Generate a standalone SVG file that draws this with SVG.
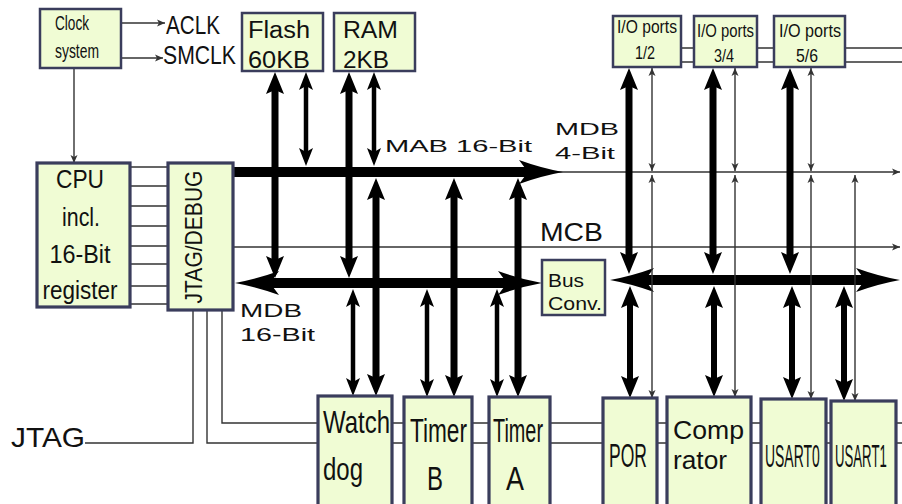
<svg xmlns="http://www.w3.org/2000/svg" width="902" height="504" viewBox="0 0 902 504">
<style>
.box{fill:#f0fcd4;stroke:#3a3d5c;stroke-width:2.5}
.boxb{fill:#f0fcd4;stroke:#3a3d5c;stroke-width:3.2}
.t{font-family:"Liberation Sans",Arial,sans-serif;fill:#111}
.thin{fill:none;stroke:#333;stroke-width:1.4}
.bus{fill:none;stroke:#000;stroke-width:10}
.thk{fill:none;stroke:#000;stroke-width:7}
.thk6{fill:none;stroke:#000;stroke-width:6}
.med{fill:none;stroke:#000;stroke-width:4.5}
</style>
<defs>
<marker id="mBus" markerUnits="userSpaceOnUse" refX="0" refY="0" markerWidth="10" markerHeight="10" orient="auto-start-reverse" overflow="visible">
<path d="M30,0 Q8,-4 -14,-12 L-5,0 L-14,12 Q8,4 30,0 Z" fill="#000"/>
</marker>
<marker id="mThk" markerUnits="userSpaceOnUse" refX="0" refY="0" markerWidth="10" markerHeight="10" orient="auto-start-reverse" overflow="visible">
<path d="M16,0 L-6,-9 L-2,0 L-6,9 Z" fill="#000"/>
</marker>
<marker id="mMed" markerUnits="userSpaceOnUse" refX="0" refY="0" markerWidth="10" markerHeight="10" orient="auto-start-reverse" overflow="visible">
<path d="M13,0 L-5,-7 L-1,0 L-5,7 Z" fill="#000"/>
</marker>
<marker id="mThin" markerUnits="userSpaceOnUse" refX="0" refY="0" markerWidth="10" markerHeight="10" orient="auto-start-reverse" overflow="visible">
<path d="M0,0 L-8,-3.5 L-6,0 L-8,3.5 Z" fill="#333"/>
</marker>
</defs>

<g id="connectors">
<path class="thin" d="M130,167 H168 M130,186 H168 M130,206 H168 M130,226 H168 M130,246 H168 M130,264 H168 M130,286 H168 M130,304 H168"/>
<path class="thin" d="M193,310 V443 H85"/>
<path class="thin" d="M207,310 V443 H902"/>
<path class="thin" d="M222,310 V423 H902"/>
<path class="thin" d="M681,48 H902 M681,62 H902"/>
<path class="thin" d="M121,23 H165" marker-end="url(#mThin)"/>
<path class="thin" d="M121,58 H163" marker-end="url(#mThin)"/>
<path class="thin" d="M74,68 V163" marker-end="url(#mThin)"/>
<path class="thin" d="M233,247 H900" marker-end="url(#mThin)"/>
<path class="thin" d="M540,172 H900" marker-end="url(#mThin)"/>
<path class="bus" d="M233,172 H533" marker-end="url(#mBus)"/>
<path class="bus" d="M265,283 H512" marker-start="url(#mBus)" marker-end="url(#mBus)"/>
<path class="bus" d="M640,280 H870" marker-start="url(#mBus)" marker-end="url(#mBus)"/>
<path class="thk" d="M275,88 V262" marker-start="url(#mThk)" marker-end="url(#mThk)"/>
<path class="med" d="M306,85 V153" marker-start="url(#mMed)" marker-end="url(#mMed)"/>
<path class="thk" d="M349,88 V262" marker-start="url(#mThk)" marker-end="url(#mThk)"/>
<path class="med" d="M374,85 V153" marker-start="url(#mMed)" marker-end="url(#mMed)"/>
<path class="med" d="M353,302 V383" marker-start="url(#mMed)" marker-end="url(#mMed)"/>
<path class="thk" d="M376,194 V380" marker-start="url(#mThk)" marker-end="url(#mThk)"/>
<path class="med" d="M427,302 V384" marker-start="url(#mMed)" marker-end="url(#mMed)"/>
<path class="thk" d="M454,194 V381" marker-start="url(#mThk)" marker-end="url(#mThk)"/>
<path class="med" d="M497,302 V384" marker-start="url(#mMed)" marker-end="url(#mMed)"/>
<path class="thk" d="M518,194 V381" marker-start="url(#mThk)" marker-end="url(#mThk)"/>
<path class="thk" d="M629,84 V258" marker-start="url(#mThk)" marker-end="url(#mThk)"/>
<path class="thk" d="M713,84 V258" marker-start="url(#mThk)" marker-end="url(#mThk)"/>
<path class="thk" d="M790,84 V258" marker-start="url(#mThk)" marker-end="url(#mThk)"/>
<path class="thin" d="M652,68 V171" marker-start="url(#mThin)" marker-end="url(#mThin)"/>
<path class="thin" d="M652,175 V398" marker-start="url(#mThin)" marker-end="url(#mThin)"/>
<path class="thin" d="M735,68 V171" marker-start="url(#mThin)" marker-end="url(#mThin)"/>
<path class="thin" d="M735,175 V397" marker-start="url(#mThin)" marker-end="url(#mThin)"/>
<path class="thin" d="M811,68 V171" marker-start="url(#mThin)" marker-end="url(#mThin)"/>
<path class="thin" d="M811,175 V399" marker-start="url(#mThin)" marker-end="url(#mThin)"/>
<path class="thin" d="M855,175 V401" marker-start="url(#mThin)" marker-end="url(#mThin)"/>
<path class="thk6" d="M630,302 V382" marker-start="url(#mThk)" marker-end="url(#mThk)"/>
<path class="thk6" d="M714,302 V381" marker-start="url(#mThk)" marker-end="url(#mThk)"/>
<path class="thk6" d="M792,302 V383" marker-start="url(#mThk)" marker-end="url(#mThk)"/>
<path class="thk6" d="M844,302 V385" marker-start="url(#mThk)" marker-end="url(#mThk)"/>
</g>

<g id="labels">
<text class="t" x="166" y="34" font-size="26" textLength="54" lengthAdjust="spacingAndGlyphs">ACLK</text>
<text class="t" x="163" y="64" font-size="26" textLength="73" lengthAdjust="spacingAndGlyphs">SMCLK</text>
<text class="t" x="385" y="152" font-size="17" textLength="147" lengthAdjust="spacingAndGlyphs">MAB 16-Bit</text>
<text class="t" x="555" y="135" font-size="17" textLength="64" lengthAdjust="spacingAndGlyphs">MDB</text>
<text class="t" x="555" y="159" font-size="17" textLength="60" lengthAdjust="spacingAndGlyphs">4-Bit</text>
<text class="t" x="540" y="241" font-size="26" textLength="63" lengthAdjust="spacingAndGlyphs">MCB</text>
<text class="t" x="240" y="317" font-size="19" textLength="62" lengthAdjust="spacingAndGlyphs">MDB</text>
<text class="t" x="240" y="341" font-size="19" textLength="75" lengthAdjust="spacingAndGlyphs">16-Bit</text>
<text class="t" x="11" y="447" font-size="28" textLength="74" lengthAdjust="spacingAndGlyphs">JTAG</text>
</g>

<g id="clock">
<rect class="box" x="40" y="9" width="81" height="59"/>
<text class="t" x="55" y="30" font-size="20" textLength="34" lengthAdjust="spacingAndGlyphs">Clock</text>
<text class="t" x="55" y="58" font-size="20" textLength="44" lengthAdjust="spacingAndGlyphs">system</text>
</g>
<g id="flash">
<rect class="box" x="242" y="13" width="81" height="58"/>
<text class="t" x="248" y="38" font-size="23" textLength="62" lengthAdjust="spacingAndGlyphs">Flash</text>
<text class="t" x="248" y="68" font-size="23" textLength="62" lengthAdjust="spacingAndGlyphs">60KB</text>
</g>
<g id="ram">
<rect class="box" x="334" y="13" width="81" height="58"/>
<text class="t" x="343" y="38" font-size="23" textLength="55" lengthAdjust="spacingAndGlyphs">RAM</text>
<text class="t" x="343" y="68" font-size="23" textLength="46" lengthAdjust="spacingAndGlyphs">2KB</text>
</g>
<g id="cpu">
<rect class="boxb" x="37" y="163" width="93" height="144"/>
<g class="t" font-size="25" text-anchor="middle">
<text x="80" y="188" textLength="48" lengthAdjust="spacingAndGlyphs">CPU</text>
<text x="81" y="226" textLength="38" lengthAdjust="spacingAndGlyphs">incl.</text>
<text x="80" y="263" textLength="61" lengthAdjust="spacingAndGlyphs">16-Bit</text>
<text x="80" y="299" textLength="75" lengthAdjust="spacingAndGlyphs">register</text>
</g>
</g>
<g id="jtagdebug">
<rect class="boxb" x="168" y="163" width="65" height="147"/>
<text class="t" transform="translate(202,237) rotate(-90)" x="0" y="0" font-size="24" text-anchor="middle" textLength="133" lengthAdjust="spacingAndGlyphs">JTAG/DEBUG</text>
</g>
<g id="busconv">
<rect class="box" x="542" y="260" width="63" height="55"/>
<text class="t" x="548" y="287" font-size="19" textLength="36" lengthAdjust="spacingAndGlyphs">Bus</text>
<text class="t" x="548" y="310" font-size="19" textLength="54" lengthAdjust="spacingAndGlyphs">Conv.</text>
</g>
<g id="io12">
<rect class="box" x="613" y="16" width="68" height="51"/>
<text class="t" x="617" y="33" font-size="18" textLength="60" lengthAdjust="spacingAndGlyphs">I/O ports</text>
<text class="t" x="645" y="59" font-size="18" text-anchor="middle" textLength="20" lengthAdjust="spacingAndGlyphs">1/2</text>
</g>
<g id="io34">
<rect class="box" x="694" y="16" width="63" height="51"/>
<text class="t" x="697" y="37" font-size="18" textLength="57" lengthAdjust="spacingAndGlyphs">I/O ports</text>
<text class="t" x="724" y="62" font-size="18" text-anchor="middle" textLength="20" lengthAdjust="spacingAndGlyphs">3/4</text>
</g>
<g id="io56">
<rect class="box" x="774" y="16" width="71" height="51"/>
<text class="t" x="779" y="37" font-size="18" textLength="62" lengthAdjust="spacingAndGlyphs">I/O ports</text>
<text class="t" x="807" y="62" font-size="18" text-anchor="middle" textLength="22" lengthAdjust="spacingAndGlyphs">5/6</text>
</g>
<g id="watchdog">
<rect class="boxb" x="318" y="396" width="74" height="114"/>
<text class="t" x="323" y="433" font-size="32" textLength="67" lengthAdjust="spacingAndGlyphs">Watch</text>
<text class="t" x="323" y="480" font-size="32" textLength="40" lengthAdjust="spacingAndGlyphs">dog</text>
</g>
<g id="timerb">
<rect class="boxb" x="404" y="397" width="68" height="113"/>
<text class="t" x="410" y="442" font-size="34" textLength="57" lengthAdjust="spacingAndGlyphs">Timer</text>
<text class="t" x="435" y="490" font-size="34" text-anchor="middle" textLength="16" lengthAdjust="spacingAndGlyphs">B</text>
</g>
<g id="timera">
<rect class="boxb" x="489" y="397" width="61" height="113"/>
<text class="t" x="493" y="442" font-size="34" textLength="50" lengthAdjust="spacingAndGlyphs">Timer</text>
<text class="t" x="515" y="490" font-size="34" text-anchor="middle" textLength="18" lengthAdjust="spacingAndGlyphs">A</text>
</g>
<g id="por">
<rect class="boxb" x="603" y="398" width="54" height="112"/>
<text class="t" transform="translate(609,467) scale(0.53,1)" x="0" y="0" font-size="33">POR</text>
</g>
<g id="comparator">
<rect class="boxb" x="667" y="397" width="84" height="113"/>
<text class="t" x="673" y="439" font-size="25" textLength="71" lengthAdjust="spacingAndGlyphs">Comp</text>
<text class="t" x="673" y="469" font-size="25" textLength="54" lengthAdjust="spacingAndGlyphs">rator</text>
</g>
<g id="usart0">
<rect class="boxb" x="761" y="399" width="65" height="111"/>
<text class="t" transform="translate(765,467) scale(0.436,1)" x="0" y="0" font-size="32">USART0</text>
</g>
<g id="usart1">
<rect class="boxb" x="831" y="401" width="65" height="109"/>
<text class="t" transform="translate(835,467) scale(0.412,1)" x="0" y="0" font-size="32">USART1</text>
</g>
</svg>
